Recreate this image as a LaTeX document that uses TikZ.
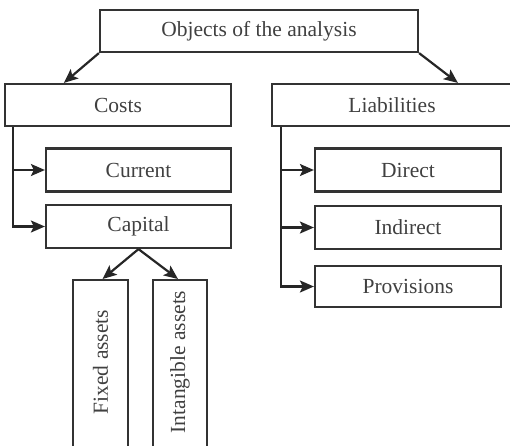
\documentclass[tikz,border=0pt]{standalone}
\usepackage{fontspec}
\setmainfont{Liberation Serif}
\usetikzlibrary{arrows.meta}
\begin{document}
\begin{tikzpicture}[x=1pt,y=-1pt,
  box/.style={draw=black!80, line width=2.2pt, inner sep=0pt, font=\fontsize{21.5}{25}\selectfont, text=black!75},
  arr/.style={draw=black!85, line width=2.2pt, -{Stealth[length=14pt,width=12pt,inset=3pt]}},
  ]
\useasboundingbox (0,0) rectangle (510,445);
\node[box, minimum width=318pt, minimum height=42pt] (top) at (259,31) {Objects of the analysis};
\node[box, minimum width=226pt, minimum height=42pt] (costs) at (118,105) {Costs};
\node[box, minimum width=240pt, minimum height=42pt] (liab) at (392,105) {Liabilities};
\node[box, minimum width=185pt, minimum height=43pt] (current) at (138.5,170) {Current};
\node[box, minimum width=185pt, minimum height=43pt] (capital) at (138.5,226.5) {Capital};
\node[box, minimum width=186pt, minimum height=43pt] (direct) at (408,170) {Direct};
\node[box, minimum width=186pt, minimum height=43pt] (indirect) at (408,227.5) {Indirect};
\node[box, minimum width=186pt, minimum height=41pt] (prov) at (408,286.5) {Provisions};
\node[box, minimum width=55pt, minimum height=170pt, anchor=north] (fixed) at (100.5,279) {};
\node[box, minimum width=54pt, minimum height=170pt, anchor=north] (intang) at (180,279) {};
\node[font=\fontsize{21.5}{25}\selectfont, text=black!75, rotate=90] (fixedt) at (100.5,362) {Fixed assets};
\node[font=\fontsize{21.5}{25}\selectfont, text=black!75, rotate=90] (intangt) at (180,362) {Intangible assets};
\draw[arr] (top.south west) -- ([xshift=60pt]costs.north west);
\draw[arr] (top.south east) -- ([xshift=187pt]liab.north west);
\draw[arr] ([xshift=9pt]costs.south west) |- (current.west);
\draw[arr] ([xshift=9pt]costs.south west) |- (capital.west);
\draw[arr] ([xshift=10pt]liab.south west) |- (direct.west);
\draw[arr] ([xshift=10pt]liab.south west) |- (indirect.west);
\draw[arr] ([xshift=10pt]liab.south west) |- (prov.west);
\draw[arr] (capital.south) -- ([xshift=2pt]fixed.north);
\draw[arr] (capital.south) -- ([xshift=-2pt]intang.north);
\end{tikzpicture}
\end{document}
